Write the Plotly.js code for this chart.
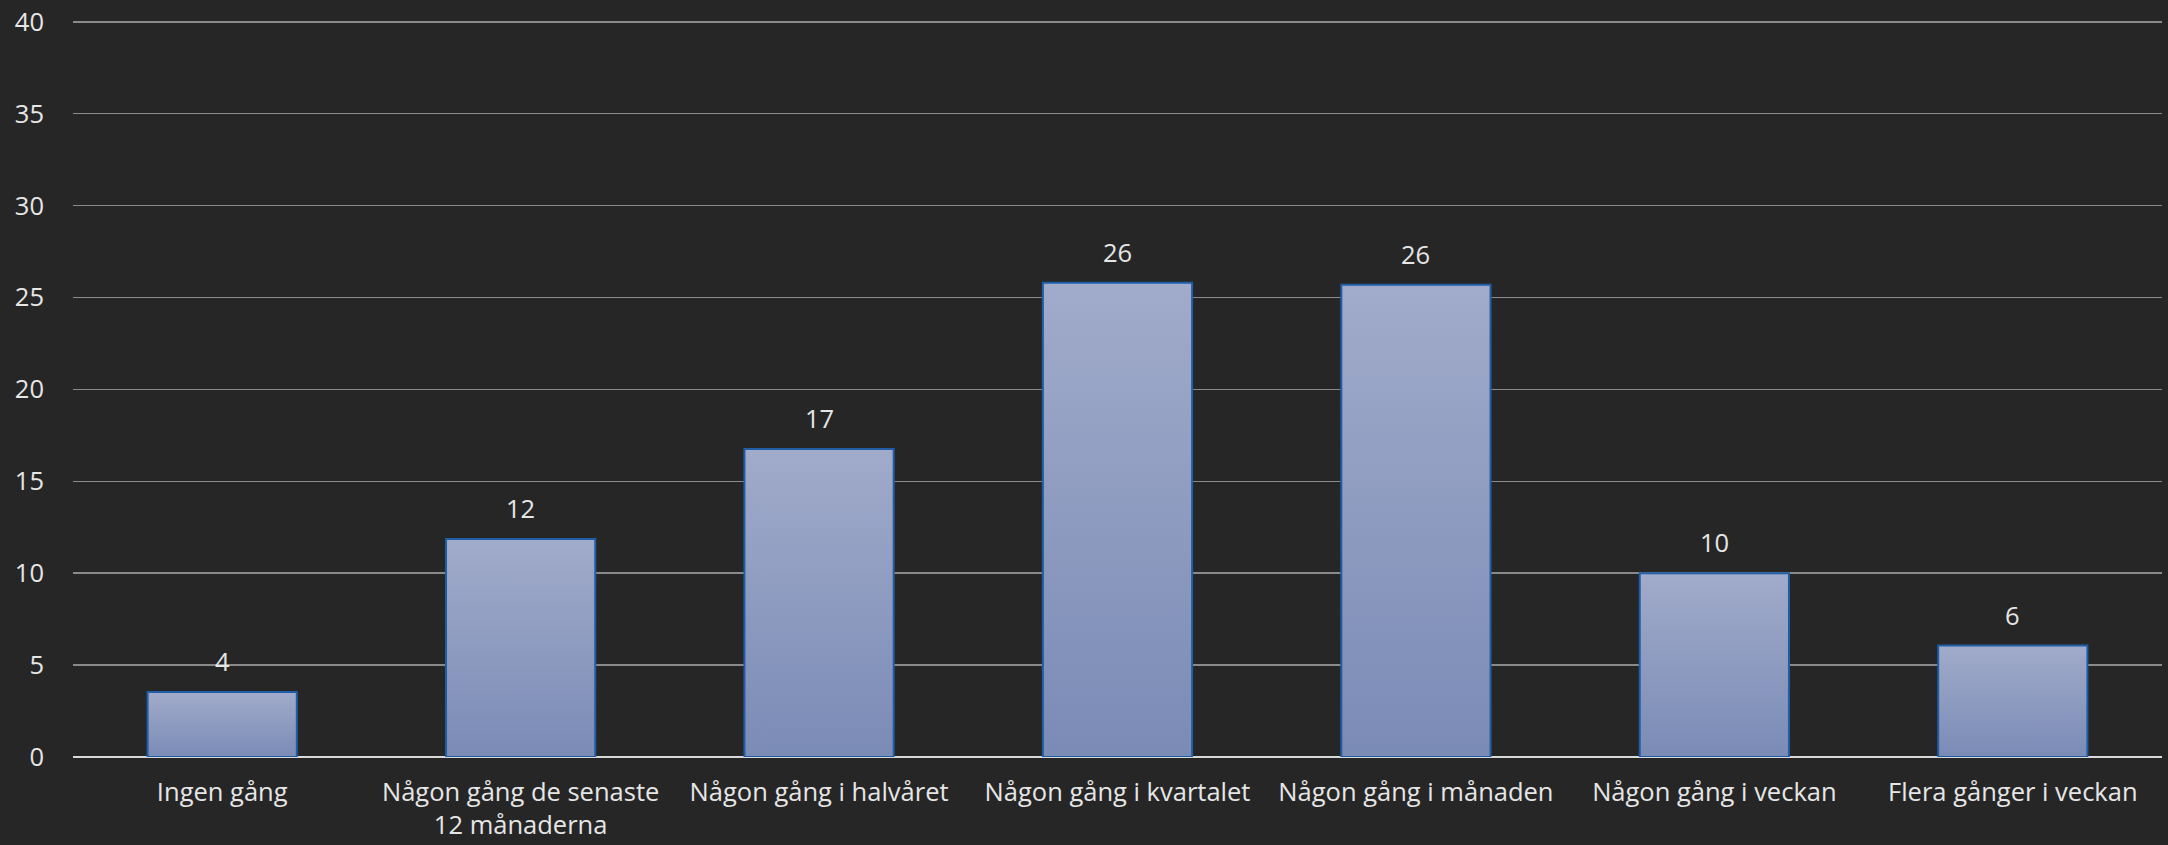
<!DOCTYPE html>
<html>
<head>
<meta charset="utf-8">
<script src="https://cdn.plot.ly/plotly-3.0.1.min.js"></script>
<style>
  html, body { margin: 0; padding: 0; background: #262626; }
  #chart { width: 2168px; height: 845px; }
</style>
</head>
<body>
<div id="chart"></div>
<script>
const categories = [
  "Ingen gång",
  "Någon gång de senaste<br>12 månaderna",
  "Någon gång i halvåret",
  "Någon gång i kvartalet",
  "Någon gång i månaden",
  "Någon gång i veckan",
  "Flera gånger i veckan"
];
const values = [3.54, 11.86, 16.76, 25.8, 25.69, 10.0, 6.06];
const yTicks = [0, 5, 10, 15, 20, 25, 30, 35, 40];

const FONT = "Open Sans, Noto Sans, sans-serif";
const TXT = "#e6e6e6";
const FS = 25.5;

const trace = {
  type: "bar",
  x: categories,
  y: values,
  marker: {
    color: "#8e9bc0",
    line: { color: "#1f5ea6", width: 2 }
  },
  hoverinfo: "none"
};

const annotations = categories.map((c, i) => ({
  x: c,
  y: values[i],
  xref: "x",
  yref: "y",
  text: String(Math.round(values[i])),
  showarrow: false,
  yanchor: "bottom",
  yshift: 12,
  font: { family: FONT, size: FS, color: TXT }
}));

const layout = {
  width: 2168,
  height: 845,
  paper_bgcolor: "#262626",
  plot_bgcolor: "#262626",
  margin: { l: 73, r: 6, t: 20, b: 88 },
  showlegend: false,
  bargap: 0.5,
  font: { family: FONT, size: FS, color: TXT },
  xaxis: {
    type: "category",
    showgrid: false,
    zeroline: false,
    showline: false,
    ticks: "",
    tickfont: { family: FONT, size: FS, color: TXT },
    ticklabelstandoff: 17,
    fixedrange: true
  },
  yaxis: {
    range: [0, 40.1],
    tickvals: yTicks,
    ticktext: yTicks.map(String),
    showgrid: true,
    gridcolor: "#8a8a8a",
    gridwidth: 1.5,
    zeroline: true,
    zerolinecolor: "#d9d9d9",
    zerolinewidth: 2,
    showline: false,
    ticks: "",
    ticklabelstandoff: 28,
    tickfont: { family: FONT, size: FS, color: TXT },
    fixedrange: true
  },
  annotations: annotations
};

Plotly.newPlot("chart", [trace], layout, { displayModeBar: false, staticPlot: true }).then(gd => {
  const svg = gd.querySelector("svg.main-svg");
  const ns = "http://www.w3.org/2000/svg";
  let defs = svg.querySelector("defs");
  if (!defs) { defs = document.createElementNS(ns, "defs"); svg.insertBefore(defs, svg.firstChild); }
  const lg = document.createElementNS(ns, "linearGradient");
  lg.setAttribute("id", "barGrad");
  lg.setAttribute("x1", "0"); lg.setAttribute("y1", "0");
  lg.setAttribute("x2", "0"); lg.setAttribute("y2", "1");
  const s1 = document.createElementNS(ns, "stop");
  s1.setAttribute("offset", "0"); s1.setAttribute("stop-color", "#a1abca");
  const s2 = document.createElementNS(ns, "stop");
  s2.setAttribute("offset", "1"); s2.setAttribute("stop-color", "#7a8bb6");
  lg.appendChild(s1); lg.appendChild(s2);
  defs.appendChild(lg);
  gd.querySelectorAll(".bars .point path").forEach(p => {
    p.style.fill = "url(#barGrad)";
    p.style.fillOpacity = "1";
  });
});
</script>
</body>
</html>
